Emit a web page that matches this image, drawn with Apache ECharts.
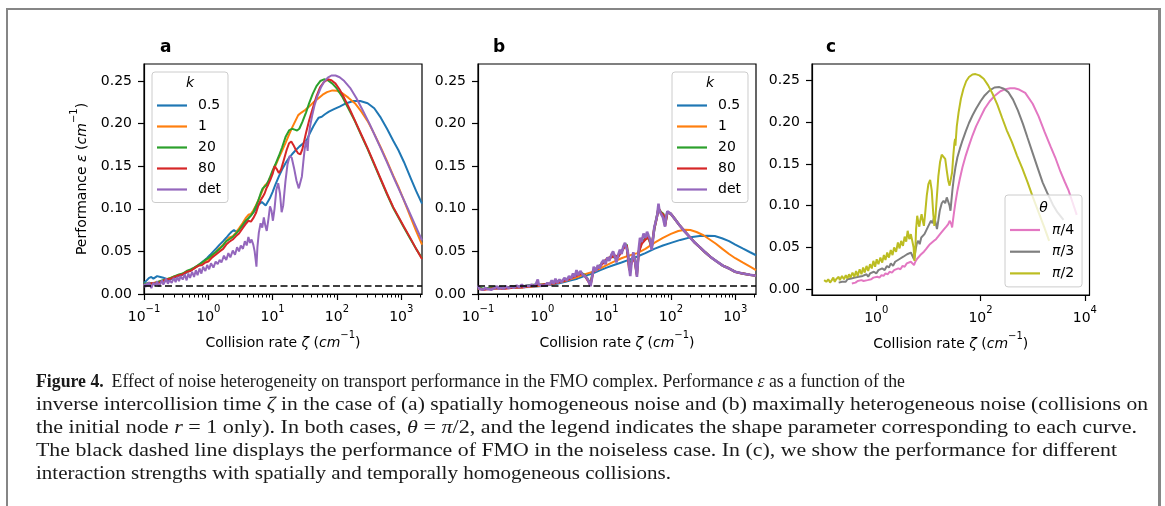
<!DOCTYPE html>
<html><head><meta charset="utf-8">
<script src="https://cdn.jsdelivr.net/npm/echarts@6/dist/echarts.min.js"></script>
<style>
html,body{margin:0;padding:0;background:#fff;}
#wrap{position:relative;width:1165px;height:506px;overflow:hidden;background:#fff;}
#chart{position:absolute;left:0;top:0;width:1165px;height:506px;}
.fr{position:absolute;background:#868686;}
#cap{position:absolute;left:0;top:0;}
</style></head><body>
<div id="wrap">
<div id="chart"></div>
<div class="fr" style="left:6px;top:8px;width:1154px;height:1.5px"></div>
<div class="fr" style="left:6px;top:8px;width:2px;height:500px"></div>
<div class="fr" style="left:1158px;top:8px;width:3px;height:500px"></div>
<svg id="cap" width="1165" height="506" font-family="'Liberation Serif', serif" font-size="18" fill="#1a1a1a">
<text x="36" y="387" textLength="869" lengthAdjust="spacingAndGlyphs"><tspan font-weight="bold">Figure 4.</tspan><tspan dx="8">Effect of noise heterogeneity on transport performance in the FMO complex. Performance </tspan><tspan font-style="italic">ε</tspan><tspan> as a function of the</tspan></text>
<text x="36" y="410" textLength="1112" lengthAdjust="spacingAndGlyphs">inverse intercollision time <tspan font-style="italic">ζ</tspan> in the case of (a) spatially homogeneous noise and (b) maximally heterogeneous noise (collisions on</text>
<text x="36" y="433" textLength="1101" lengthAdjust="spacingAndGlyphs">the initial node <tspan font-style="italic">r</tspan> = 1 only). In both cases, <tspan font-style="italic">θ</tspan> = <tspan font-style="italic">π</tspan>/2, and the legend indicates the shape parameter corresponding to each curve.</text>
<text x="36" y="456" textLength="1081" lengthAdjust="spacingAndGlyphs">The black dashed line displays the performance of FMO in the noiseless case. In (c), we show the performance for different</text>
<text x="36" y="479" textLength="635" lengthAdjust="spacingAndGlyphs">interaction strengths with spatially and temporally homogeneous collisions.</text>
</svg>
</div>
<script>
// ---------- labels / ticks ----------
const kNames = ['0.5', '1', '20', '80', 'det'];
const thetaNames = ['π/4', 'π/3', 'π/2'];
const yTicks = [0, 0.05, 0.10, 0.15, 0.20, 0.25];
const xTicksAB = [0.1, 1, 10, 100, 1000];
const xMinorAB = [0.2,0.3,0.4,0.5,0.6,0.7,0.8,0.9, 2,3,4,5,6,7,8,9, 20,30,40,50,60,70,80,90, 200,300,400,500,600,700,800,900, 2000];
const xTicksC = [1, 100, 10000];
const noiselessPerf = 0.0055;

// ---------- panel a: spatially homogeneous noise ----------
const a_k05 = [[0.10,0.013],[0.11,0.016],[0.12,0.019],[0.13,0.020],[0.14,0.018],[0.15,0.020],[0.16,0.021],[0.17,0.019],[0.18,0.020],[0.19,0.021],[0.20,0.019],[0.22,0.018],[0.24,0.016],[0.27,0.018],[0.30,0.019],[0.34,0.021],[0.38,0.022],[0.43,0.024],[0.48,0.026],[0.54,0.028],[0.6,0.030],[0.68,0.033],[0.76,0.036],[0.85,0.039],[0.95,0.042],[1.07,0.046],[1.2,0.050],[1.35,0.054],[1.5,0.058],[1.7,0.062],[1.9,0.066],[2.1,0.070],[2.3,0.073],[2.5,0.075],[2.7,0.073],[3.0,0.076],[3.4,0.080],[3.8,0.085],[4.3,0.090],[4.8,0.094],[5.3,0.098],[5.8,0.103],[6.3,0.106],[6.8,0.108],[7.3,0.107],[7.8,0.104],[8.3,0.106],[9,0.112],[10,0.120],[11,0.128],[12.5,0.138],[14,0.146],[16,0.154],[18,0.160],[20,0.164],[23,0.169],[26,0.173],[30,0.177],[34,0.181],[38,0.189],[43,0.197],[48,0.203],[52,0.207],[55,0.205],[58,0.208],[65,0.211],[75,0.214],[90,0.217],[110,0.220],[140,0.224],[180,0.2265],[230,0.2265],[300,0.224],[380,0.218],[480,0.207],[600,0.194],[750,0.180],[900,0.169],[1100,0.155],[1400,0.136],[1700,0.121],[2100,0.106]];
const a_k1 = [[0.10,0.011],[0.12,0.012],[0.14,0.013],[0.16,0.014],[0.19,0.015],[0.22,0.017],[0.26,0.019],[0.3,0.021],[0.35,0.022],[0.4,0.024],[0.46,0.026],[0.53,0.028],[0.6,0.030],[0.7,0.034],[0.8,0.036],[0.9,0.039],[1.0,0.041],[1.15,0.045],[1.3,0.049],[1.5,0.054],[1.7,0.058],[1.9,0.062],[2.1,0.066],[2.4,0.068],[2.7,0.072],[3.0,0.077],[3.4,0.083],[3.8,0.089],[4.2,0.093],[4.6,0.094],[5.0,0.098],[5.5,0.104],[6,0.110],[6.5,0.116],[7,0.122],[7.5,0.127],[8,0.128],[8.5,0.131],[9.2,0.137],[10,0.143],[11,0.150],[12.5,0.160],[14,0.168],[16,0.178],[18,0.187],[20,0.195],[22.5,0.203],[25,0.210],[28,0.213],[32,0.216],[37,0.220],[43,0.225],[50,0.229],[60,0.234],[70,0.237],[85,0.239],[100,0.2385],[120,0.236],[150,0.2305],[190,0.224],[240,0.214],[300,0.203],[380,0.188],[480,0.172],[600,0.156],[750,0.139],[900,0.126],[1100,0.110],[1400,0.090],[1700,0.074],[2100,0.058]];
const a_k20 = [[0.10,0.012],[0.12,0.013],[0.14,0.012],[0.16,0.014],[0.19,0.016],[0.22,0.017],[0.26,0.019],[0.3,0.021],[0.35,0.023],[0.4,0.024],[0.46,0.027],[0.53,0.029],[0.6,0.031],[0.7,0.034],[0.8,0.037],[0.9,0.040],[1.0,0.042],[1.15,0.046],[1.3,0.049],[1.5,0.053],[1.7,0.057],[1.9,0.062],[2.1,0.064],[2.4,0.067],[2.7,0.071],[3.0,0.075],[3.4,0.081],[3.8,0.086],[4.2,0.089],[4.6,0.092],[5.0,0.096],[5.5,0.103],[6,0.110],[6.5,0.118],[7,0.124],[7.5,0.125],[8,0.128],[8.5,0.132],[9.2,0.138],[10,0.145],[11,0.152],[12.5,0.162],[14,0.172],[16,0.185],[18,0.192],[20,0.194],[22,0.193],[24,0.192],[26,0.194],[29,0.202],[33,0.213],[37,0.224],[42,0.235],[48,0.244],[55,0.250],[63,0.252],[72,0.251],[85,0.247],[100,0.241],[120,0.232],[150,0.218],[190,0.203],[240,0.186],[300,0.170],[380,0.152],[480,0.134],[600,0.117],[750,0.101],[900,0.090],[1100,0.078],[1400,0.064],[1700,0.053],[2100,0.042]];
const a_k80 = [[0.10,0.010],[0.12,0.012],[0.14,0.013],[0.16,0.012],[0.19,0.015],[0.22,0.017],[0.26,0.018],[0.3,0.020],[0.35,0.022],[0.4,0.023],[0.46,0.026],[0.53,0.027],[0.6,0.030],[0.7,0.033],[0.8,0.034],[0.9,0.037],[1.0,0.038],[1.15,0.043],[1.3,0.046],[1.5,0.050],[1.7,0.053],[1.9,0.058],[2.1,0.061],[2.4,0.064],[2.7,0.068],[3.0,0.071],[3.4,0.077],[3.8,0.082],[4.2,0.086],[4.6,0.085],[5.0,0.089],[5.5,0.095],[6,0.104],[6.5,0.110],[7,0.114],[7.5,0.118],[8,0.124],[8.5,0.128],[9.2,0.134],[10,0.141],[10.7,0.150],[11.5,0.147],[12.5,0.142],[13.5,0.146],[15,0.158],[16.5,0.169],[18,0.177],[19.5,0.179],[21,0.175],[23,0.169],[25,0.165],[27,0.164],[29,0.170],[31,0.180],[33,0.189],[37,0.204],[42,0.218],[48,0.232],[55,0.243],[63,0.249],[72,0.252],[82,0.251],[95,0.247],[110,0.240],[130,0.230],[160,0.216],[200,0.200],[250,0.184],[300,0.171],[380,0.153],[480,0.135],[600,0.118],[750,0.102],[900,0.091],[1100,0.079],[1400,0.065],[1700,0.053],[2100,0.041]];
const a_det = [[0.10,0.012],[0.105,0.008],[0.11,0.013],[0.115,0.009],[0.12,0.014],[0.125,0.010],[0.13,0.007],[0.14,0.013],[0.15,0.010],[0.16,0.015],[0.17,0.009],[0.18,0.012],[0.19,0.016],[0.2,0.011],[0.21,0.014],[0.22,0.018],[0.235,0.012],[0.25,0.016],[0.27,0.013],[0.29,0.019],[0.31,0.014],[0.33,0.020],[0.35,0.015],[0.37,0.021],[0.4,0.017],[0.43,0.023],[0.46,0.016],[0.49,0.024],[0.52,0.019],[0.56,0.026],[0.6,0.020],[0.64,0.028],[0.68,0.022],[0.73,0.030],[0.78,0.024],[0.83,0.032],[0.9,0.027],[0.96,0.034],[1.03,0.029],[1.1,0.036],[1.2,0.031],[1.3,0.038],[1.4,0.035],[1.5,0.040],[1.6,0.037],[1.75,0.045],[1.9,0.040],[2.05,0.048],[2.2,0.043],[2.4,0.051],[2.6,0.046],[2.8,0.055],[3.0,0.050],[3.2,0.057],[3.45,0.053],[3.7,0.062],[3.95,0.057],[4.2,0.067],[4.45,0.060],[4.7,0.064],[5.0,0.058],[5.25,0.050],[5.45,0.040],[5.6,0.032],[5.8,0.055],[6.1,0.072],[6.5,0.083],[6.9,0.078],[7.3,0.090],[7.7,0.080],[8.1,0.074],[8.6,0.088],[9.1,0.103],[9.6,0.098],[10.1,0.086],[10.7,0.100],[11.4,0.122],[12.2,0.130],[13.0,0.118],[13.8,0.096],[14.6,0.104],[15.8,0.132],[17.0,0.152],[18.4,0.162],[19.8,0.160],[21.5,0.148],[23.5,0.133],[25.5,0.124],[27,0.126],[28.5,0.138],[30,0.155],[31.5,0.170],[33,0.180],[34,0.176],[35,0.168],[36,0.183],[38,0.196],[41,0.209],[45,0.222],[50,0.233],[56,0.242],[63,0.249],[72,0.254],[82,0.2565],[95,0.2565],[110,0.2545],[130,0.250],[160,0.242],[200,0.230],[250,0.216],[320,0.200],[400,0.184],[500,0.168],[630,0.151],[800,0.133],[1000,0.117],[1250,0.101],[1600,0.083],[2100,0.063]];

// ---------- panel b: maximally heterogeneous noise ----------
const b_k05 = [[0.10,0.006],[0.13,0.006],[0.17,0.0065],[0.22,0.0068],[0.3,0.007],[0.4,0.0074],[0.5,0.0078],[0.65,0.0082],[0.8,0.0088],[1.0,0.0095],[1.3,0.0105],[1.7,0.012],[2.2,0.014],[2.8,0.016],[3.5,0.018],[4.5,0.021],[6,0.024],[8,0.028],[10,0.031],[13,0.034],[17,0.037],[22,0.040],[30,0.044],[40,0.048],[55,0.053],[75,0.057],[100,0.060],[140,0.0635],[200,0.0665],[280,0.068],[370,0.0685],[480,0.068],[620,0.0655],[800,0.062],[1000,0.058],[1300,0.0535],[1700,0.049],[2100,0.0455]];
const b_k1 = [[0.10,0.006],[0.13,0.0062],[0.17,0.0066],[0.22,0.007],[0.3,0.0072],[0.4,0.0076],[0.5,0.008],[0.65,0.0086],[0.8,0.0092],[1.0,0.010],[1.3,0.0112],[1.7,0.013],[2.2,0.015],[2.8,0.0175],[3.5,0.020],[4.5,0.023],[6,0.026],[8,0.030],[10,0.034],[13,0.038],[17,0.042],[22,0.045],[30,0.048],[40,0.053],[55,0.060],[75,0.066],[100,0.0705],[130,0.074],[165,0.0755],[200,0.0752],[250,0.0728],[320,0.069],[400,0.064],[500,0.059],[630,0.053],[800,0.047],[1000,0.042],[1300,0.037],[1700,0.032],[2100,0.028]];
const b_k20 = [[0.10,0.008],[0.12,0.006],[0.15,0.007],[0.2,0.008],[0.25,0.007],[0.3,0.008],[0.4,0.009],[0.5,0.009],[0.6,0.010],[0.8,0.011],[1.0,0.011],[1.3,0.012],[1.6,0.014],[2.0,0.015],[2.5,0.018],[3.0,0.021],[3.5,0.023],[4.0,0.025],[4.6,0.022],[5.2,0.016],[5.6,0.012],[6.2,0.028],[7,0.030],[8,0.034],[9,0.038],[10.3,0.041],[11.8,0.044],[13.4,0.043],[15,0.045],[17,0.049],[19,0.057],[20.5,0.058],[22.5,0.032],[24.5,0.040],[27,0.044],[29.5,0.024],[31.5,0.050],[35,0.060],[40,0.065],[45,0.066],[50,0.055],[55,0.076],[60,0.090],[64,0.100],[70,0.096],[76,0.094],[81,0.082],[88,0.096],[100,0.094],[115,0.088],[135,0.081],[157,0.075],[190,0.068],[230,0.061],[280,0.055],[340,0.049],[420,0.043],[520,0.038],[650,0.033],[800,0.030],[1000,0.026],[1300,0.024],[1700,0.0225],[2100,0.0215]];
const b_k80 = [[0.10,0.007],[0.12,0.005],[0.15,0.006],[0.2,0.007],[0.25,0.006],[0.3,0.007],[0.4,0.008],[0.5,0.008],[0.6,0.009],[0.8,0.010],[1.0,0.011],[1.3,0.012],[1.6,0.013],[2.0,0.015],[2.5,0.017],[3.0,0.020],[3.5,0.022],[4.0,0.024],[4.6,0.021],[5.2,0.015],[5.6,0.010],[6.2,0.027],[7,0.029],[8,0.033],[9,0.037],[10.3,0.042],[11.8,0.043],[13.4,0.045],[15,0.043],[17,0.050],[19,0.055],[20.5,0.057],[22.5,0.028],[24.5,0.037],[27,0.043],[29.5,0.022],[31.5,0.049],[35,0.059],[40,0.064],[45,0.067],[50,0.054],[55,0.077],[60,0.089],[64,0.101],[70,0.095],[76,0.093],[81,0.080],[88,0.096],[100,0.094],[115,0.088],[135,0.081],[157,0.075],[190,0.068],[230,0.061],[280,0.055],[340,0.049],[420,0.043],[520,0.038],[650,0.033],[800,0.030],[1000,0.026],[1300,0.024],[1700,0.0225],[2100,0.0215]];
const b_det = [[0.10,0.010],[0.105,0.006],[0.11,0.008],[0.12,0.005],[0.13,0.007],[0.14,0.006],[0.15,0.008],[0.16,0.005],[0.18,0.007],[0.2,0.009],[0.21,0.006],[0.23,0.008],[0.25,0.006],[0.27,0.009],[0.3,0.007],[0.33,0.009],[0.36,0.007],[0.4,0.010],[0.44,0.008],[0.48,0.011],[0.52,0.008],[0.57,0.010],[0.62,0.009],[0.68,0.011],[0.74,0.009],[0.8,0.012],[0.85,0.017],[0.88,0.011],[0.95,0.010],[1.0,0.012],[1.1,0.010],[1.2,0.013],[1.3,0.011],[1.4,0.016],[1.5,0.012],[1.6,0.018],[1.7,0.013],[1.85,0.017],[2.0,0.014],[2.2,0.019],[2.4,0.016],[2.6,0.021],[2.8,0.018],[3.0,0.024],[3.2,0.020],[3.4,0.028],[3.6,0.022],[3.9,0.027],[4.2,0.023],[4.6,0.021],[5.0,0.018],[5.3,0.014],[5.6,0.009],[5.9,0.018],[6.3,0.032],[6.8,0.027],[7.3,0.034],[7.8,0.030],[8.4,0.037],[9,0.040],[9.6,0.035],[10.3,0.043],[11,0.039],[11.8,0.046],[12.6,0.050],[13.4,0.044],[14.2,0.037],[15.1,0.046],[16.1,0.052],[17.1,0.047],[18.2,0.056],[19.3,0.060],[20.4,0.062],[21.5,0.048],[22.5,0.030],[23.3,0.021],[24.5,0.038],[26,0.049],[27.5,0.040],[28.8,0.028],[29.6,0.020],[30.5,0.035],[31.5,0.052],[33,0.066],[35,0.061],[37.5,0.071],[40,0.066],[42.5,0.073],[45,0.068],[47.5,0.064],[50,0.052],[52,0.060],[55,0.078],[58,0.085],[61,0.092],[64,0.106],[66,0.098],[69,0.095],[72,0.093],[75,0.090],[78,0.084],[81,0.079],[84,0.090],[88,0.097],[93,0.096],[100,0.094],[115,0.088],[135,0.081],[157,0.075],[190,0.068],[230,0.061],[280,0.055],[340,0.049],[420,0.043],[520,0.038],[650,0.033],[800,0.030],[1000,0.026],[1300,0.024],[1700,0.0225],[2100,0.0215]];

// ---------- panel c: interaction strengths ----------
const c_pi4 = [[0.34,0.007],[0.37,0.009],[0.4,0.008],[0.44,0.010],[0.48,0.009],[0.52,0.011],[0.57,0.010],[0.62,0.012],[0.68,0.011],[0.74,0.013],[0.8,0.012],[0.88,0.014],[0.96,0.013],[1.05,0.015],[1.15,0.014],[1.26,0.017],[1.38,0.016],[1.5,0.019],[1.65,0.018],[1.8,0.021],[2.0,0.020],[2.2,0.023],[2.4,0.022],[2.65,0.025],[2.9,0.024],[3.2,0.028],[3.5,0.027],[3.85,0.031],[4.2,0.030],[4.6,0.033],[5.0,0.031],[5.3,0.029],[5.6,0.033],[6.0,0.036],[6.5,0.038],[7.0,0.041],[7.6,0.043],[8.2,0.045],[9,0.048],[9.8,0.051],[10.7,0.054],[11.7,0.056],[12.8,0.058],[14,0.060],[15.3,0.063],[16.7,0.066],[18.2,0.068],[20,0.072],[22,0.075],[24,0.078],[25.5,0.082],[26.5,0.083],[27.5,0.078],[28.5,0.074],[29.5,0.082],[31,0.092],[33,0.104],[36,0.118],[40,0.132],[45,0.146],[52,0.160],[60,0.172],[70,0.184],[82,0.195],[100,0.206],[120,0.216],[150,0.225],[190,0.232],[240,0.237],[300,0.2395],[370,0.2405],[450,0.2405],[550,0.239],[720,0.235],[1000,0.222],[1300,0.207],[1700,0.188],[2200,0.171],[2700,0.158],[3400,0.141],[4100,0.129],[4900,0.118],[5900,0.103],[7000,0.089]];
const c_pi3 = [[0.19,0.008],[0.2,0.010],[0.22,0.009],[0.24,0.011],[0.26,0.009],[0.28,0.012],[0.3,0.010],[0.33,0.013],[0.36,0.011],[0.39,0.014],[0.42,0.012],[0.46,0.015],[0.5,0.013],[0.55,0.016],[0.6,0.014],[0.65,0.018],[0.7,0.015],[0.76,0.019],[0.82,0.017],[0.9,0.021],[1.0,0.019],[1.1,0.023],[1.2,0.021],[1.3,0.025],[1.45,0.023],[1.6,0.028],[1.75,0.026],[1.9,0.031],[2.1,0.028],[2.3,0.033],[2.5,0.031],[2.75,0.036],[3.0,0.034],[3.3,0.039],[3.6,0.037],[3.9,0.042],[4.2,0.040],[4.6,0.044],[5.0,0.042],[5.3,0.036],[5.5,0.034],[5.7,0.048],[6.0,0.055],[6.4,0.058],[6.8,0.054],[7.3,0.062],[7.8,0.060],[8.4,0.066],[9,0.070],[9.7,0.068],[10.4,0.078],[11.2,0.082],[12,0.079],[13,0.087],[14,0.086],[14.6,0.072],[15.3,0.080],[16.5,0.094],[18,0.103],[19.5,0.106],[21,0.103],[22.5,0.110],[24,0.108],[25.5,0.100],[26.5,0.094],[27.5,0.105],[29,0.120],[31,0.135],[33,0.146],[36,0.158],[40,0.168],[45,0.178],[52,0.189],[60,0.199],[70,0.208],[82,0.216],[100,0.225],[120,0.232],[150,0.238],[185,0.2415],[230,0.242],[280,0.240],[340,0.236],[420,0.227],[520,0.214],[650,0.198],[800,0.181],[1000,0.163],[1250,0.145],[1550,0.128],[1950,0.114],[2450,0.101],[3000,0.092],[3900,0.083]];
const c_pi2 = [[0.10,0.011],[0.105,0.013],[0.11,0.009],[0.12,0.012],[0.13,0.008],[0.14,0.011],[0.15,0.014],[0.16,0.009],[0.17,0.012],[0.18,0.010],[0.19,0.015],[0.2,0.011],[0.22,0.016],[0.24,0.012],[0.26,0.017],[0.28,0.013],[0.3,0.018],[0.32,0.014],[0.35,0.020],[0.38,0.015],[0.41,0.022],[0.44,0.016],[0.48,0.024],[0.52,0.018],[0.56,0.026],[0.6,0.020],[0.65,0.028],[0.7,0.022],[0.76,0.030],[0.82,0.025],[0.88,0.034],[0.95,0.027],[1.02,0.036],[1.1,0.030],[1.2,0.038],[1.3,0.032],[1.4,0.041],[1.5,0.035],[1.62,0.044],[1.75,0.038],[1.9,0.047],[2.05,0.041],[2.2,0.050],[2.4,0.045],[2.6,0.056],[2.8,0.049],[3.0,0.058],[3.25,0.052],[3.5,0.063],[3.75,0.057],[4.0,0.070],[4.3,0.060],[4.6,0.066],[4.9,0.058],[5.2,0.050],[5.4,0.034],[5.6,0.045],[5.8,0.072],[6.1,0.088],[6.4,0.080],[6.7,0.075],[7.0,0.083],[7.4,0.090],[7.8,0.082],[8.2,0.076],[8.7,0.092],[9.3,0.112],[10,0.126],[10.8,0.131],[11.6,0.118],[12.4,0.090],[13.0,0.076],[13.7,0.088],[14.5,0.110],[15.5,0.135],[16.7,0.152],[18,0.161],[19.5,0.163],[21,0.156],[22.5,0.142],[24,0.130],[25.5,0.124],[27,0.126],[28.5,0.140],[30,0.160],[31.5,0.175],[32.5,0.180],[33,0.172],[33.5,0.178],[35,0.195],[38,0.212],[42,0.228],[47,0.240],[53,0.249],[60,0.254],[70,0.257],[80,0.2575],[95,0.256],[115,0.252],[140,0.244],[170,0.234],[210,0.221],[260,0.205],[320,0.190],[400,0.176],[500,0.160],[630,0.145],[800,0.128],[1000,0.111],[1300,0.092],[1650,0.075],[2070,0.058]];

// ---------- styling ----------
const C = {blue:'#1f77b4', orange:'#ff7f0e', green:'#2ca02c', red:'#d62728', purple:'#9467bd', pink:'#e377c2', gray:'#7f7f7f', olive:'#bcbd22'};
const FONT = 'DejaVu Sans';
const rich = {
  n: {fontFamily: FONT, fontSize: 14, color: '#000', lineHeight: 20, verticalAlign: 'bottom'},
  i: {fontFamily: FONT, fontSize: 14, color: '#000', fontStyle: 'italic', lineHeight: 20, verticalAlign: 'bottom'},
  s: {fontFamily: FONT, fontSize: 10, color: '#000', lineHeight: 9, verticalAlign: 'top'}
};
const xName = '{n|Collision rate }{i|ζ}{n| (}{i|cm}{s|−1}{n|)}';
const yName = '{n|Performance }{i|ε}{n| (}{i|cm}{s|−1}{n|)}';
const powFmt = v => { const e = Math.round(Math.log10(v)); return '{n|10}{s|' + (e < 0 ? '−' + (-e) : e) + '}'; };

const grids = [
  {left: 144, top: 64, width: 278, height: 230},
  {left: 478, top: 64, width: 278, height: 230},
  {left: 812, top: 64, width: 277.5, height: 231}
].map(g => Object.assign(g, {show: true, borderColor: '#000', borderWidth: 1.2, backgroundColor: 'transparent', outerBoundsMode: 'none', containLabel: false}));

function mainX(gi, min, max, ticks) {
  return {type: 'log', logBase: 10, gridIndex: gi, position: 'bottom', min, max,
    axisLine: {show: true, onZero: false, lineStyle: {color: '#000', width: 1.2}},
    axisTick: {show: true, length: 6, lineStyle: {color: '#000', width: 1.2}, customValues: ticks},
    axisLabel: {show: true, margin: 10, customValues: ticks, formatter: powFmt, rich: rich},
    splitLine: {show: false}, minorTick: {show: false}, minorSplitLine: {show: false},
    name: xName, nameLocation: 'middle', nameGap: 36, nameTextStyle: {rich: rich}};
}
function minorX(gi, min, max, ticks) {
  return {type: 'log', logBase: 10, gridIndex: gi, position: 'bottom', min, max,
    axisLine: {show: false, onZero: false},
    axisTick: {show: true, length: 3.5, lineStyle: {color: '#000', width: 1}, customValues: ticks},
    axisLabel: {show: false}, splitLine: {show: false}};
}
function yAx(gi, min, max, named) {
  const o = {type: 'value', gridIndex: gi, position: 'left', min, max,
    axisLine: {show: true, onZero: false, lineStyle: {color: '#000', width: 1.2}},
    axisTick: {show: true, length: 6, lineStyle: {color: '#000', width: 1.2}, customValues: yTicks},
    axisLabel: {show: true, margin: 12, customValues: yTicks, formatter: v => v.toFixed(2), color: '#000', fontFamily: FONT, fontSize: 14},
    splitLine: {show: false}};
  if (named) Object.assign(o, {name: yName, nameLocation: 'middle', nameRotate: 90, nameGap: 55, nameTextStyle: {rich: rich}});
  return o;
}

function L(name, data, color, xi, yi, w) {
  return {type: 'line', name, data, xAxisIndex: xi, yAxisIndex: yi, showSymbol: false, symbol: 'none',
    lineStyle: {color, width: w}, itemStyle: {color}, emphasis: {disabled: true}, silent: true, animation: false};
}
function dashed(xi, yi) {
  return {type: 'line', name: 'noiseless', data: [], xAxisIndex: xi, yAxisIndex: yi, symbol: 'none', silent: true,
    markLine: {silent: true, symbol: 'none', label: {show: false}, animation: false,
      lineStyle: {color: '#000', type: [7, 3.5], width: 1.7}, data: [{yAxis: noiselessPerf}]}};
}

const legendBase = {orient: 'vertical', icon: 'rect', itemWidth: 30, itemHeight: 2.2, selectedMode: false,
  backgroundColor: 'rgba(255,255,255,0.8)', borderColor: '#cccccc', borderWidth: 1, borderRadius: 3,
  textStyle: {fontFamily: FONT, fontSize: 14, color: '#000', padding: [0, 0, 0, 6], lineHeight: 14}};

const option = {
  animation: false,
  backgroundColor: 'transparent',
  grid: grids,
  xAxis: [mainX(0, 0.1, 2100, xTicksAB), minorX(0, 0.1, 2100, xMinorAB),
          mainX(1, 0.1, 2100, xTicksAB), minorX(1, 0.1, 2100, xMinorAB),
          mainX(2, 0.0585, 12300, xTicksC)],
  yAxis: [yAx(0, 0, 0.27, true), yAx(1, 0, 0.27, false), yAx(2, -0.0068, 0.2696, false)],
  legend: [
    Object.assign({}, legendBase, {data: kNames, left: 152, top: 72, padding: [26.5, 7, 6, 5], itemGap: 7}),
    Object.assign({}, legendBase, {data: kNames, left: 672, top: 72, padding: [26.5, 7, 6, 5], itemGap: 7}),
    Object.assign({}, legendBase, {data: thetaNames, left: 1005, top: 195, padding: [28, 8, 6.5, 5], itemGap: 7.7,
      formatter: nm => '{i|π}{n|' + nm.slice(1) + '}',
      textStyle: {padding: [0, 0, 0, 7], rich: {
        i: {fontFamily: FONT, fontSize: 14, color: '#000', fontStyle: 'italic', lineHeight: 14},
        n: {fontFamily: FONT, fontSize: 14, color: '#000', lineHeight: 14}}}})
  ],
  graphic: [
    {type: 'text', x: 160, y: 47.5, style: {text: 'a', fontFamily: FONT, fontSize: 17, fontWeight: 'bold', fill: '#000', verticalAlign: 'middle'}},
    {type: 'text', x: 493, y: 47.5, style: {text: 'b', fontFamily: FONT, fontSize: 17, fontWeight: 'bold', fill: '#000', verticalAlign: 'middle'}},
    {type: 'text', x: 826, y: 47.5, style: {text: 'c', fontFamily: FONT, fontSize: 17, fontWeight: 'bold', fill: '#000', verticalAlign: 'middle'}},
    {type: 'text', x: 190, y: 83, z: 100, style: {text: 'k', fontFamily: FONT, fontSize: 14, fontStyle: 'italic', fill: '#000', align: 'center', verticalAlign: 'middle'}},
    {type: 'text', x: 710, y: 83, z: 100, style: {text: 'k', fontFamily: FONT, fontSize: 14, fontStyle: 'italic', fill: '#000', align: 'center', verticalAlign: 'middle'}},
    {type: 'text', x: 1043.5, y: 208, z: 100, style: {text: 'θ', fontFamily: FONT, fontSize: 14, fontStyle: 'italic', fill: '#000', align: 'center', verticalAlign: 'middle'}}
  ],
  series: [
    dashed(0, 0),
    L('0.5', a_k05, C.blue, 0, 0, 2), L('1', a_k1, C.orange, 0, 0, 2), L('20', a_k20, C.green, 0, 0, 2),
    L('80', a_k80, C.red, 0, 0, 2), L('det', a_det, C.purple, 0, 0, 2),
    dashed(2, 1),
    L('0.5', b_k05, C.blue, 2, 1, 2), L('1', b_k1, C.orange, 2, 1, 2), L('20', b_k20, C.green, 2, 1, 2.4),
    L('80', b_k80, C.red, 2, 1, 2.4), L('det', b_det, C.purple, 2, 1, 2.6),
    L('π/4', c_pi4, C.pink, 4, 2, 2), L('π/3', c_pi3, C.gray, 4, 2, 2), L('π/2', c_pi2, C.olive, 4, 2, 2)
  ]
};
const chart = echarts.init(document.getElementById('chart'), null, {renderer: 'canvas'});
chart.setOption(option);
</script>
</body></html>
